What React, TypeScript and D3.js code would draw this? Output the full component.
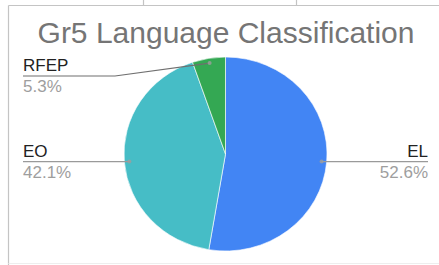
import React, { useEffect, useRef } from "react";
import * as d3 from "d3";

// chart data
const categories = ["EL", "EO", "RFEP"];
const counts = [10, 8, 1];
const sliceColors = ["#4285f4", "#46bdc6", "#34a853"];
const chartTitle = "Gr5 Language Classification";

const W = 439;
const H = 265;

function PieChart() {
    const ref = useRef<SVGSVGElement | null>(null);

    useEffect(() => {
        const svg = d3.select(ref.current);
        svg.selectAll("*").remove();

        // sheet cell borders behind the chart
        const frame = svg.append("g").attr("stroke", "#c4c4c4").attr("stroke-width", 1.2);
        frame.append("line").attr("x1", 8.5).attr("x2", W).attr("y1", 5.5).attr("y2", 5.5);
        frame.append("line").attr("x1", 8.5).attr("x2", 8.5).attr("y1", 5.5).attr("y2", H);
        frame.append("line").attr("x1", 143.5).attr("x2", 143.5).attr("y1", 0).attr("y2", 5.5);
        frame.append("line").attr("x1", 296.5).attr("x2", 296.5).attr("y1", 0).attr("y2", 5.5);
        frame.append("line").attr("x1", 8.5).attr("x2", W).attr("y1", 263.5).attr("y2", 263.5)
            .attr("stroke", "#eeeeee");

        svg.append("text")
            .attr("x", 226)
            .attr("y", 43)
            .attr("text-anchor", "middle")
            .attr("font-family", "Liberation Sans, Arial, sans-serif")
            .attr("font-size", 30)
            .attr("fill", "#757575")
            .text(chartTitle);

        const cx = 225.5, cy = 154;
        const ry = 97, rx = 101.5;
        const sx = rx / ry;

        const data = categories.map((c, i) => ({ name: c, value: counts[i], color: sliceColors[i] }));
        const total = d3.sum(counts);
        const pct = d3.format(".1%");

        const pie = d3.pie<any>().value(d => d.value).sort(null);
        const arcs = pie(data);
        const arc = d3.arc<any>().innerRadius(0).outerRadius(ry);

        const g = svg.append("g").attr("transform", `translate(${cx},${cy}) scale(${sx},1)`);
        g.selectAll("path")
            .data(arcs)
            .enter()
            .append("path")
            .attr("d", arc)
            .attr("fill", d => d.data.color)
            .attr("stroke", "#ffffff")
            .attr("stroke-width", 0.6);

        // leader lines + labels
        const dotArc = d3.arc<any>().innerRadius(ry * 0.95).outerRadius(ry * 0.95);
        const minLineY = 76;
        const lab = svg.append("g").attr("font-family", "Liberation Sans, Arial, sans-serif");

        arcs.forEach(a => {
            const [px, py] = dotArc.centroid(a);
            const dx = cx + px * sx;
            const dy = cy + py;
            const right = dx > cx;
            const lineY = Math.max(dy, minLineY);
            const endX = right ? 428 : 23;
            const bendX = right ? dx : (lineY > dy + 1 ? 115 : dx);

            const pts: [number, number][] = [[dx, dy], [bendX, lineY], [endX, lineY]];
            lab.append("path")
                .attr("d", d3.line()(pts))
                .attr("fill", "none")
                .attr("stroke", lineY > dy + 1 ? "#6f6f6f" : "#9a9a9a")
                .attr("stroke-width", 1.2);
            lab.append("circle")
                .attr("cx", dx).attr("cy", dy).attr("r", 2)
                .attr("fill", "#9e9e9e").attr("opacity", 0.8);

            lab.append("text")
                .attr("x", endX)
                .attr("y", lineY - 5)
                .attr("text-anchor", right ? "end" : "start")
                .attr("font-size", 17)
                .attr("fill", "#222222")
                .text(a.data.name);
            lab.append("text")
                .attr("x", endX)
                .attr("y", lineY + 16)
                .attr("text-anchor", right ? "end" : "start")
                .attr("font-size", 17)
                .attr("fill", "#9e9e9e")
                .text(pct(a.data.value / total));
        });
    }, []);

    return (
        <svg
            ref={ref}
            width={W}
            height={H}
            style={{ position: "fixed", left: 0, top: 0, background: "#ffffff" }}
        />
    );
}

export default function App() {
    return <PieChart />;
}
